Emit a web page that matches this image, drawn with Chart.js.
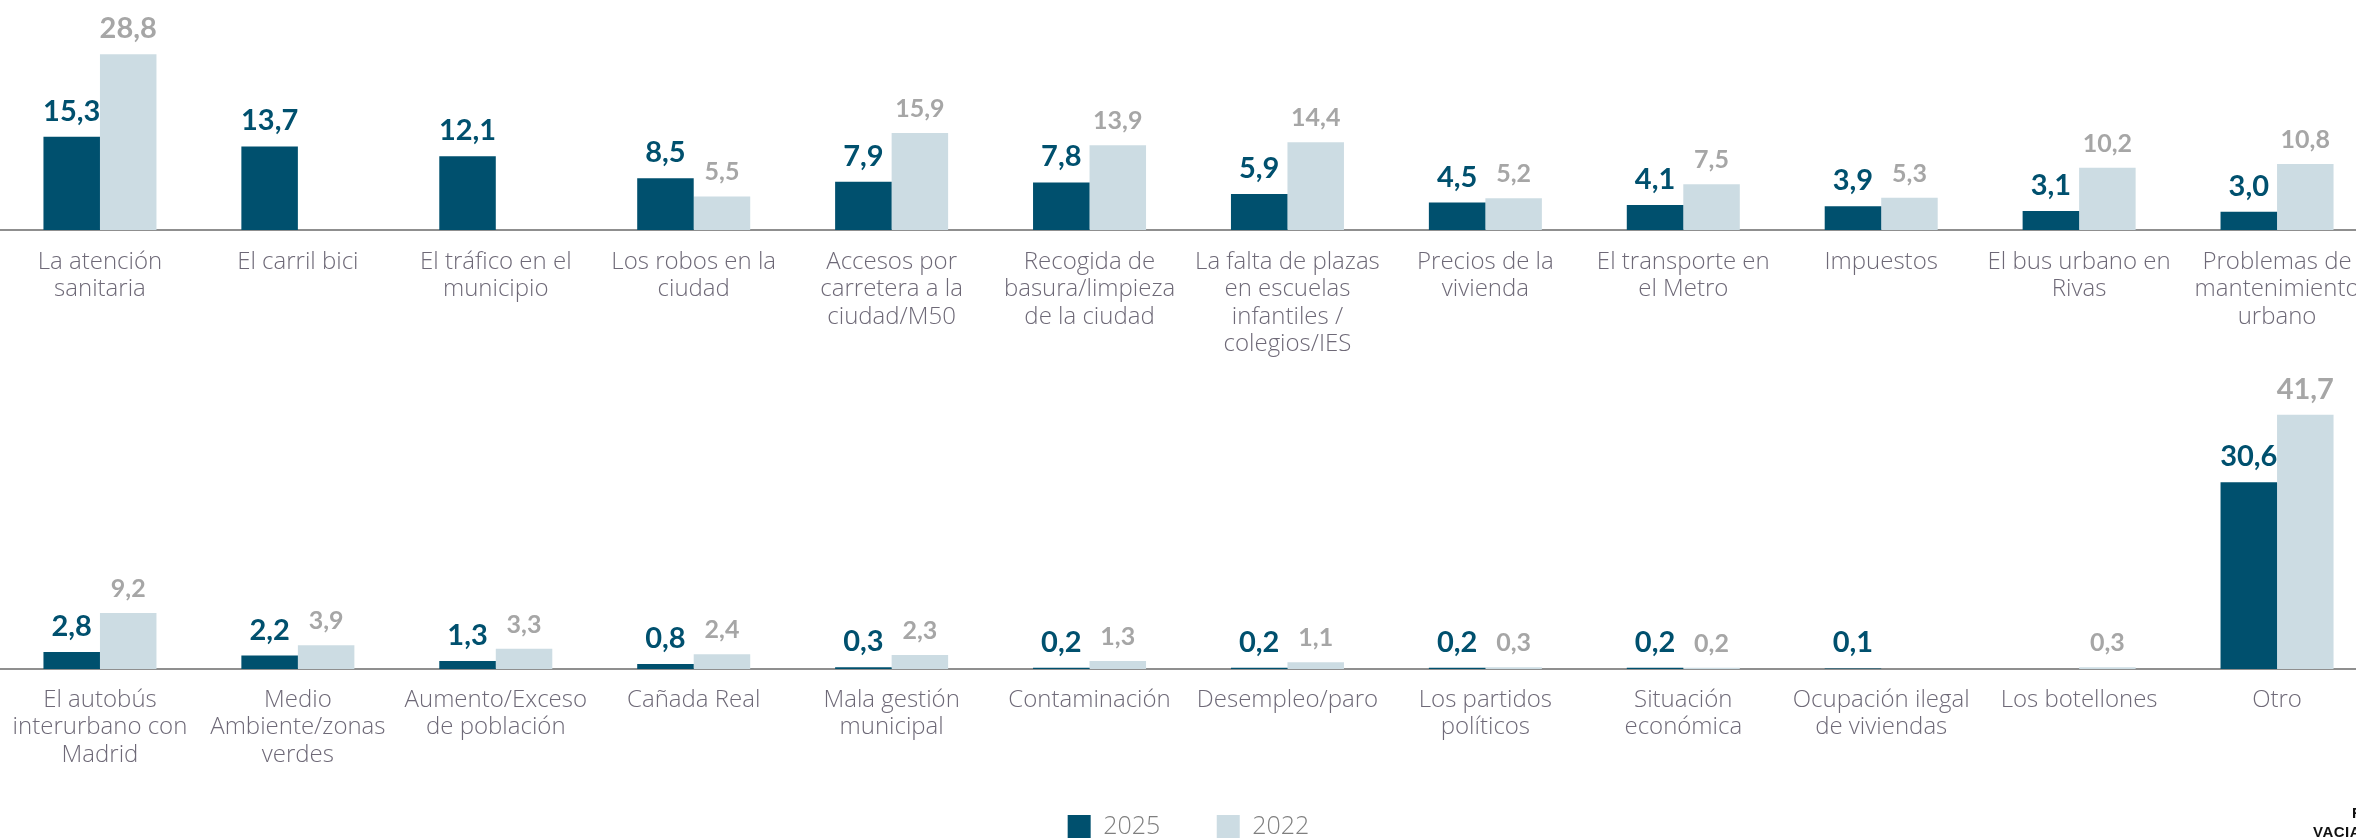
<!DOCTYPE html>
<html>
<head>
<meta charset="utf-8">
<script src="https://cdn.jsdelivr.net/npm/chart.js@4/dist/chart.umd.min.js"></script>
<style>
html,body{margin:0;padding:0;background:#fff;overflow:hidden;width:2356px;height:839px}
#wrap{position:relative;width:2356px;height:839px;overflow:hidden}
#c1{position:absolute;left:0;top:0}
#c2{position:absolute;left:0;top:340px}
#logo{position:absolute;left:0;top:0;font-family:"Liberation Sans",Arial,sans-serif;font-weight:bold;font-size:15px;line-height:19px;color:#111;letter-spacing:0.5px;white-space:nowrap}
#logo span{position:absolute}
</style>
</head>
<body>
<div id="wrap">
<canvas id="c1" width="2376" height="380"></canvas>
<canvas id="c2" width="2376" height="509"></canvas>
<div id="logo"><span style="left:2352px;top:803px">RIVAS</span><span style="left:2313px;top:822px">VACIAMADRID</span></div>
</div>
<script>
// years
const SERIES = ['2025', '2022']

// top panel
const TOP_LABELS = [
  ['La atención', 'sanitaria'],
  ['El carril bici'],
  ['El tráfico en el', 'municipio'],
  ['Los robos en la', 'ciudad'],
  ['Accesos por', 'carretera a la', 'ciudad/M50'],
  ['Recogida de', 'basura/limpieza', 'de la ciudad'],
  ['La falta de plazas', 'en escuelas', 'infantiles /', 'colegios/IES'],
  ['Precios de la', 'vivienda'],
  ['El transporte en', 'el Metro'],
  ['Impuestos'],
  ['El bus urbano en', 'Rivas'],
  ['Problemas de', 'mantenimiento', 'urbano']
]
const TOP_2025 = [15.3, 13.7, 12.1, 8.5, 7.9, 7.8, 5.9, 4.5, 4.1, 3.9, 3.1, 3.0]
const TOP_2022 = [28.8, null, null, 5.5, 15.9, 13.9, 14.4, 5.2, 7.5, 5.3, 10.2, 10.8]

// bottom panel
const BOT_LABELS = [
  ['El autobús', 'interurbano con', 'Madrid'],
  ['Medio', 'Ambiente/zonas', 'verdes'],
  ['Aumento/Exceso', 'de población'],
  ['Cañada Real'],
  ['Mala gestión', 'municipal'],
  ['Contaminación'],
  ['Desempleo/paro'],
  ['Los partidos', 'políticos'],
  ['Situación', 'económica'],
  ['Ocupación ilegal', 'de viviendas'],
  ['Los botellones'],
  ['Otro']
]
const BOT_2025 = [2.8, 2.2, 1.3, 0.8, 0.3, 0.2, 0.2, 0.2, 0.2, 0.1, null, 30.6]
const BOT_2022 = [9.2, 3.9, 3.3, 2.4, 2.3, 1.3, 1.1, 0.3, 0.2, null, 0.3, 41.7]

const DARK = '#00506e'
const LIGHT = '#ccdce3'
const TICKCOL = '#6e6977'
const FAM = '"Open Sans", Lato, sans-serif'

function fmt(v){return v.toFixed(1).replace('.', ',')}

// numbers above the bars
const valueLabels = {
  id: 'valueLabels',
  afterDatasetsDraw(chart){
    const ctx = chart.ctx
    chart.data.datasets.forEach((ds, i) => {
      const meta = chart.getDatasetMeta(i)
      meta.data.forEach((bar, j) => {
        const v = ds.data[j]
        if (v == null) return
        ctx.save()
        ctx.font = 'bold ' + ds.labelSize(v) + 'px Lato, "Open Sans", sans-serif'
        ctx.fillStyle = ds.labelColor
        ctx.textAlign = 'center'
        ctx.textBaseline = 'alphabetic'
        ctx.fillText(fmt(v), bar.x, bar.y - 16)
        ctx.restore()
      })
    })
  }
}

function makeDatasets(a, b){
  return [
    {label: SERIES[0], data: a, backgroundColor: DARK, borderWidth: 0,
      labelColor: '#00506e', labelSize: v => 29},
    {label: SERIES[1], data: b, backgroundColor: LIGHT, borderWidth: 0,
      labelColor: '#a6a6a6', labelSize: v => (v > 20 ? 29 : 25)}
  ]
}

function makeChart(id, labels, a, b, yMax, axisH, padTick, withLegend){
  return new Chart(document.getElementById(id), {
    type: 'bar',
    data: {labels: labels, datasets: makeDatasets(a, b)},
    options: {
      responsive: false,
      animation: false,
      layout: {padding: {left: 1, right: 0, top: 0, bottom: 0}},
      datasets: {bar: {categoryPercentage: 0.571, barPercentage: 1}},
      scales: {
        y: {display: false, min: 0, max: yMax},
        x: {
          grid: {display: false, drawTicks: false},
          border: {display: true, color: '#8f8f8f', width: 2},
          ticks: {
            autoSkip: false, maxRotation: 0, padding: padTick, color: TICKCOL,
            // mirror stops the long labels being clipped (padding is flipped with it)
            mirror: true,
            font: {family: FAM, size: 24, weight: 300, lineHeight: 27.5 / 24}
          },
          afterFit: s => { s.height = axisH }
        }
      },
      plugins: {
        legend: {
          display: withLegend,
          position: 'bottom',
          labels: {
            boxWidth: 23, boxHeight: 23, padding: 56.5, color: '#7f7f7f',
            font: {family: FAM, size: 25, weight: 300}
          }
        },
        tooltip: {enabled: false}
      }
    },
    plugins: [valueLabels]
  })
}

const Chart1 = makeChart('c1', TOP_LABELS, TOP_2025, TOP_2022, 230 / 6.1, 150, -45.5, false)
const Chart2 = makeChart('c2', BOT_LABELS, BOT_2025, BOT_2022, 329 / 6.1, 88.5, -44.5, true)
</script>
</body>
</html>
